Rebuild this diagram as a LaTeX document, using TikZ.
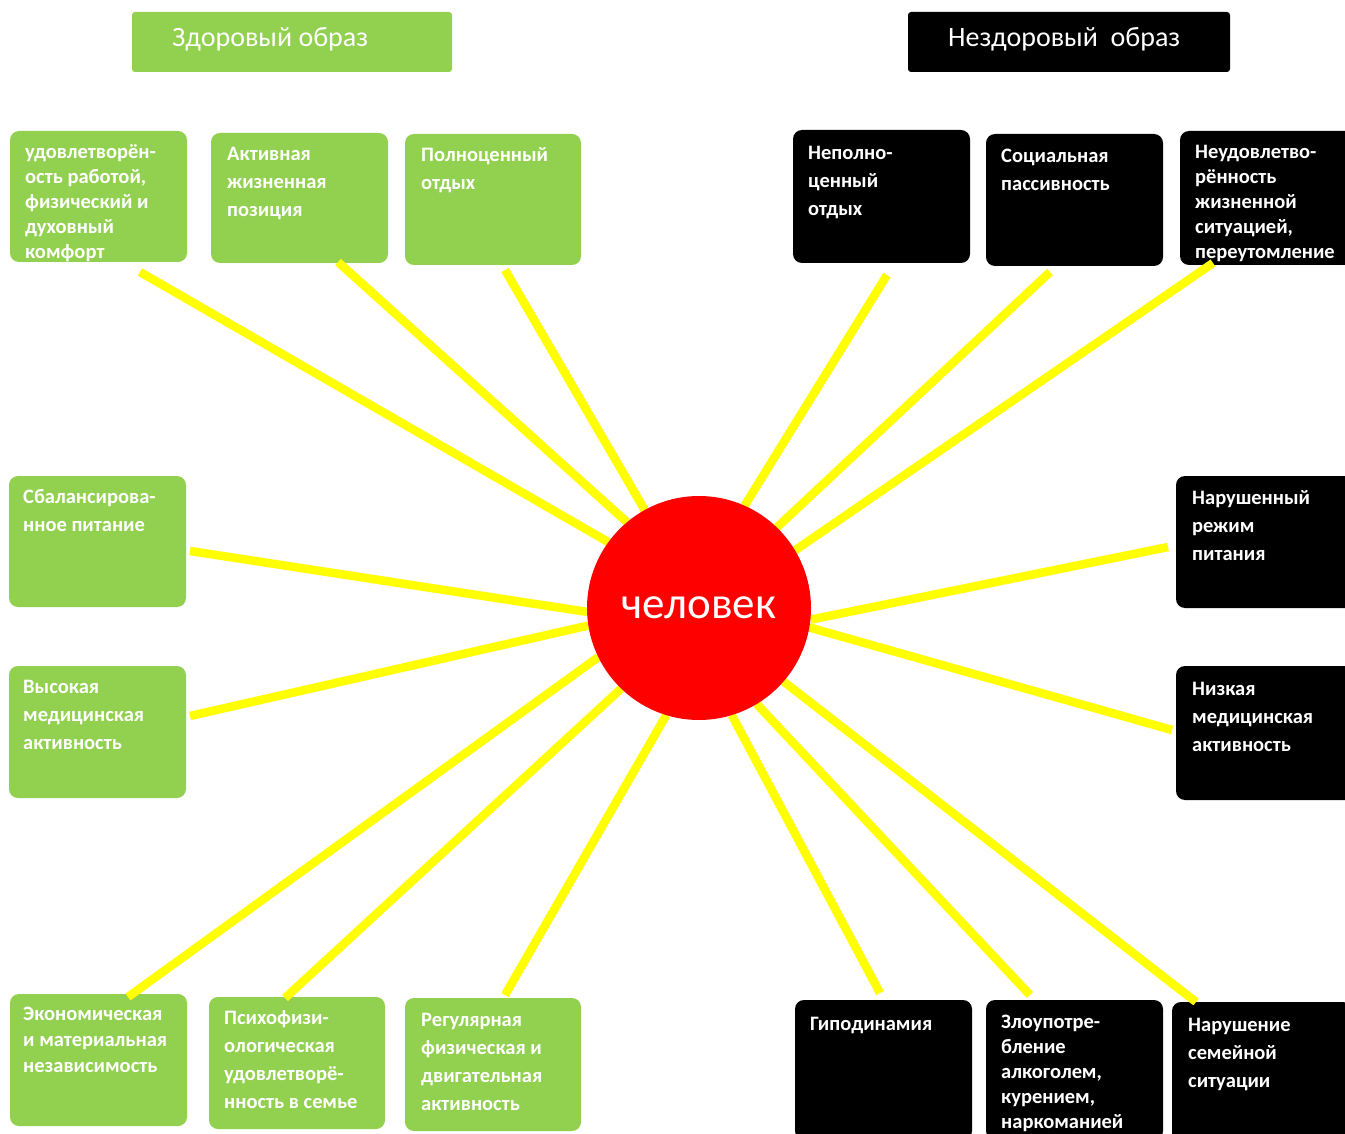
\documentclass[tikz,border=0pt]{standalone}
\usepackage{fontspec}
\setmainfont{Carlito}
\definecolor{grn}{RGB}{146,208,80}
\definecolor{ylw}{RGB}{255,255,0}
\definecolor{rd}{RGB}{255,0,0}
\pgfdeclarelayer{boxes}
\pgfdeclarelayer{rays}
\pgfsetlayers{boxes,rays,main}
\tikzset{
  gbox/.style={fill=grn, rounded corners=9pt, inner sep=0pt, outer sep=0pt, anchor=north west},
  kbox/.style={fill=black, rounded corners=9pt, inner sep=0pt, outer sep=0pt, anchor=north west},
  hdr/.style={rounded corners=3pt, inner sep=0pt, outer sep=0pt, anchor=north west, minimum height=60pt},
  hdrtext/.style={text=white, font=\fontsize{28}{32}\selectfont, inner sep=0pt, anchor=west},
  btext/.style={text=white, font=\bfseries\fontsize{20.5}{28}\selectfont, align=left, anchor=north west, inner sep=0pt},
  tight/.style={font=\bfseries\fontsize{20.5}{25}\selectfont},
  ray/.style={draw=ylw, line width=8.5pt},
}
\begin{document}
\begin{tikzpicture}[x=1pt,y=-1pt]
\useasboundingbox (0,0) rectangle (1345,1134);
% centre
\node[circle, fill=rd, minimum size=224pt, inner sep=0pt, outer sep=0pt,
      text=white, font=\fontsize{45}{50}\selectfont] (c) at (699,608) {человек};

\begin{pgfonlayer}{boxes}
\fill[white] (0,0) rectangle (1345,1134);
% headers
\node[hdr, fill=grn, minimum width=320pt] (hg) at (132,12) {};
\node[hdrtext] (hgt) at ([xshift=40pt,yshift=3pt]hg.west) {Здоровый образ};
\node[hdr, fill=black, minimum width=322pt] (hk) at (908,12) {};
\node[hdrtext] (hkt) at ([xshift=40pt,yshift=3pt]hk.west) {Нездоровый\ \ образ};

% green boxes
\node[gbox, minimum width=177pt, minimum height=131pt] (g1) at (10,131) {};
\node[btext, tight] (g1t) at ([xshift=15pt,yshift=-9.5pt]g1.north west) {\strut удовлетворён-\\ость работой,\\физический и\\духовный\\комфорт};
\node[gbox, minimum width=177pt, minimum height=130pt] (g2) at (211,133) {};
\node[btext] (g2t) at ([xshift=16pt,yshift=-7.5pt]g2.north west) {\strut Активная\\жизненная\\позиция};
\node[gbox, minimum width=176pt, minimum height=131pt] (g3) at (405,134) {};
\node[btext] (g3t) at ([xshift=16pt,yshift=-7.5pt]g3.north west) {\strut Полноценный\\отдых};
\node[gbox, minimum width=177pt, minimum height=131pt] (g4) at (9,476) {};
\node[btext] (g4t) at ([xshift=14pt,yshift=-7.5pt]g4.north west) {\strut Сбалансирова-\\нное питание};
\node[gbox, minimum width=177pt, minimum height=132pt] (g5) at (9,666) {};
\node[btext] (g5t) at ([xshift=14pt,yshift=-7.5pt]g5.north west) {\strut Высокая\\медицинская\\активность};
\node[gbox, minimum width=177pt, minimum height=132pt] (g7) at (10,994) {};
\node[btext, font=\bfseries\fontsize{20.5}{26}\selectfont] (g7t) at ([xshift=13pt,yshift=-8pt]g7.north west) {\strut Экономическая\\и материальная\\независимость};
\node[gbox, minimum width=176pt, minimum height=132pt] (g8) at (209,997) {};
\node[btext] (g8t) at ([xshift=15pt,yshift=-8pt]g8.north west) {\strut Психофизи-\\ологическая\\удовлетворё-\\нность в семье};
\node[gbox, minimum width=176pt, minimum height=133pt] (g9) at (405,998) {};
\node[btext] (g9t) at ([xshift=16pt,yshift=-9pt]g9.north west) {\strut Регулярная\\физическая и\\двигательная\\активность};

% black boxes
\node[kbox, minimum width=177pt, minimum height=133pt] (k1) at (793,130) {};
\node[btext] (k1t) at ([xshift=15pt,yshift=-10pt]k1.north west) {\strut Неполно-\\ценный\\отдых};
\node[kbox, minimum width=177pt, minimum height=132pt] (k2) at (986,134) {};
\node[btext] (k2t) at ([xshift=15pt,yshift=-8.5pt]k2.north west) {\strut Социальная\\пассивность};
\node[kbox, minimum width=180pt, minimum height=134pt] (k3) at (1180,131) {};
\node[btext, tight] (k3t) at ([xshift=15pt,yshift=-9.5pt]k3.north west) {\strut Неудовлетво-\\рённость\\жизненной\\ситуацией,\\переутомление};
\node[kbox, minimum width=180pt, minimum height=132pt] (k4) at (1176,476) {};
\node[btext] (k4t) at ([xshift=16pt,yshift=-8.5pt]k4.north west) {\strut Нарушенный\\режим\\питания};
\node[kbox, minimum width=180pt, minimum height=134pt] (k5) at (1176,666) {};
\node[btext] (k5t) at ([xshift=16pt,yshift=-9.5pt]k5.north west) {\strut Низкая\\медицинская\\активность};
\node[kbox, minimum width=177pt, minimum height=140pt] (k7) at (795,1000) {};
\node[btext] (k7t) at ([xshift=15pt,yshift=-10.5pt]k7.north west) {\strut Гиподинамия};
\node[kbox, minimum width=177pt, minimum height=140pt] (k8) at (986,1000) {};
\node[btext, tight] (k8t) at ([xshift=15pt,yshift=-10.5pt]k8.north west) {\strut Злоупотре-\\бление\\алкоголем,\\курением,\\наркоманией};
\node[kbox, minimum width=180pt, minimum height=140pt] (k9) at (1172,1002) {};
\node[btext] (k9t) at ([xshift=16pt,yshift=-9.5pt]k9.north west) {\strut Нарушение\\семейной\\ситуации};
\end{pgfonlayer}

% ray start points
\coordinate (s1) at (140,272);
\coordinate (s2) at (338,262);
\coordinate (s3) at (505,270);
\coordinate (s4) at (190,551);
\coordinate (s5) at (190,716);
\coordinate (s6) at (128,997);
\coordinate (s7) at (285,998);
\coordinate (s8) at (505,995);
\coordinate (t1) at (887,275);
\coordinate (t2) at (1050,272);
\coordinate (t3) at (1213,263);
\coordinate (t4) at (1168,547);
\coordinate (t5) at (1172,730);
\coordinate (t6) at (880,993);
\coordinate (t7) at (1030,995);
\coordinate (t8) at (1196,1002);

\begin{pgfonlayer}{rays}
\draw[ray] (s1) -- (c.144.7);
\draw[ray] (s2) -- (c.130.5);
\draw[ray] (s3) -- (c.119.5);
\draw[ray] (s4) -- (c.182);
\draw[ray] (s5) -- (c.189.7);
\draw[ray] (s6) -- (c.206);
\draw[ray] (s7) -- (c.226.8);
\draw[ray] (s8) -- (c.253);
\draw[ray] (t1) -- (c.66);
\draw[ray] (t2) -- (c.46.5);
\draw[ray] (t3) -- (c.31.5);
\draw[ray] (t4) -- (c.354);
\draw[ray] (t5) -- (c.350.5);
\draw[ray] (t6) -- (c.287);
\draw[ray] (t7) -- (c.301.6);
\draw[ray] (t8) -- (c.319.6);
\end{pgfonlayer}
\end{tikzpicture}
\end{document}
